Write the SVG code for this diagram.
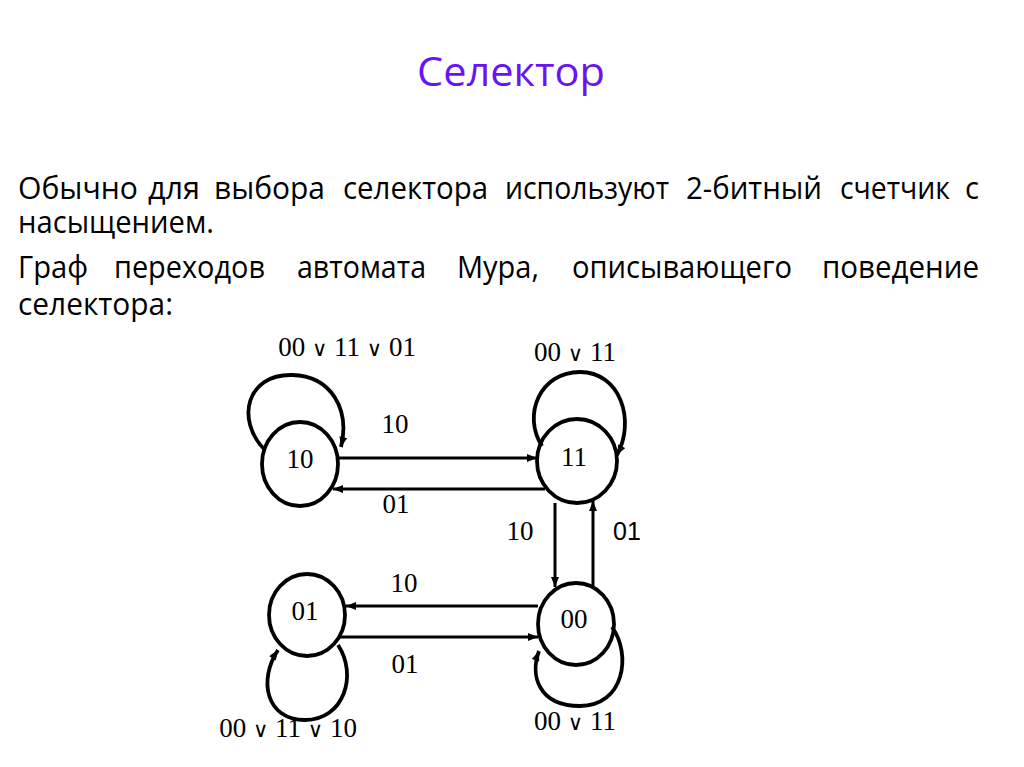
<svg xmlns="http://www.w3.org/2000/svg" width="1024" height="767" viewBox="0 0 1024 767">
<defs>
<style>
.title{font-family:"Open Sans","Noto Sans",sans-serif;font-size:41px;fill:#6a14f5}
.body{font-family:"Open Sans","Noto Sans",sans-serif;font-size:31px;fill:#000}
.lbl{font-family:"Liberation Serif","Times New Roman",serif;font-size:27px;fill:#000;text-anchor:middle}
.sans{font-family:"Liberation Sans",Arial,sans-serif;font-size:25px;fill:#000;text-anchor:middle}
.or{font-family:"DejaVu Sans",sans-serif;font-size:21px}
.node{fill:none;stroke:#000;stroke-width:3.8}
.edge{fill:none;stroke:#000;stroke-width:3}
</style>
<marker id="arr" viewBox="0 0 10 8" refX="10" refY="4" markerWidth="11" markerHeight="8" markerUnits="userSpaceOnUse" orient="auto">
<path d="M0,0 L10,4 L0,8 Z" fill="#000"/>
</marker>
</defs>
<rect width="1024" height="767" fill="#fff"/>
<text class="title" x="417" y="86" textLength="188" lengthAdjust="spacingAndGlyphs">Селектор</text>
<g id="paragraph">
<text class="body" x="18" y="199" textLength="120" lengthAdjust="spacingAndGlyphs">Обычно</text>
<text class="body" x="148" y="199" textLength="52" lengthAdjust="spacingAndGlyphs">для</text>
<text class="body" x="214" y="199" textLength="111" lengthAdjust="spacingAndGlyphs">выбора</text>
<text class="body" x="343" y="199" textLength="145" lengthAdjust="spacingAndGlyphs">селектора</text>
<text class="body" x="505" y="199" textLength="164" lengthAdjust="spacingAndGlyphs">используют</text>
<text class="body" x="686" y="199" textLength="136" lengthAdjust="spacingAndGlyphs">2-битный</text>
<text class="body" x="840" y="199" textLength="110" lengthAdjust="spacingAndGlyphs">счетчик</text>
<text class="body" x="965" y="199" textLength="14" lengthAdjust="spacingAndGlyphs">с</text>
<text class="body" x="18" y="233" textLength="196" lengthAdjust="spacingAndGlyphs">насыщением.</text>
<text class="body" x="18" y="278" textLength="70" lengthAdjust="spacingAndGlyphs">Граф</text>
<text class="body" x="114" y="278" textLength="151" lengthAdjust="spacingAndGlyphs">переходов</text>
<text class="body" x="297" y="278" textLength="129" lengthAdjust="spacingAndGlyphs">автомата</text>
<text class="body" x="457" y="278" textLength="82" lengthAdjust="spacingAndGlyphs">Мура,</text>
<text class="body" x="572" y="278" textLength="220" lengthAdjust="spacingAndGlyphs">описывающего</text>
<text class="body" x="822" y="278" textLength="157" lengthAdjust="spacingAndGlyphs">поведение</text>
<text class="body" x="18" y="315" textLength="155" lengthAdjust="spacingAndGlyphs">селектора:</text>
</g>
<g id="connectors">
<path class="edge" d="M338,458 L537,458" marker-end="url(#arr)"/>
<path class="edge" d="M545,489 L333,489" marker-end="url(#arr)"/>
<path class="edge" d="M555,503 L555,587" marker-end="url(#arr)"/>
<path class="edge" d="M593,587 L593,501" marker-end="url(#arr)"/>
<path class="edge" d="M538,606 L346,606" marker-end="url(#arr)"/>
<path class="edge" d="M340,637 L538,637" marker-end="url(#arr)"/>
<path class="node" d="M264,449 C236,420 246,374 292,375 C332,376 350,410 341,447" marker-end="url(#arr)"/>
<path class="node" d="M542,446 C522,415 540,372 580,372 C620,372 636,420 617,455" marker-end="url(#arr)"/>
<path class="node" d="M338,645 C358,675 344,720 305,720 C266,720 258,680 278,650" marker-end="url(#arr)"/>
<path class="node" d="M612,627 C632,655 624,706 580,706 C538,706 530,675 539,651" marker-end="url(#arr)"/>
<text class="lbl" x="395" y="433">10</text>
<text class="lbl" x="396" y="513">01</text>
<text class="lbl" x="520" y="540">10</text>
<text class="sans" x="627" y="540">01</text>
<text class="lbl" x="404" y="592">10</text>
<text class="lbl" x="405" y="673">01</text>
<text class="lbl" x="347" y="356">00 <tspan class="or">∨</tspan> 11 <tspan class="or">∨</tspan>  01</text>
<text class="lbl" x="575" y="361">00 <tspan class="or">∨</tspan> 11</text>
<text class="lbl" x="288" y="737">00 <tspan class="or">∨</tspan> 11 <tspan class="or">∨</tspan> 10</text>
<text class="lbl" x="575" y="730">00 <tspan class="or">∨</tspan> 11</text>
</g>
<g id="n10"><ellipse class="node" cx="300" cy="464" rx="38" ry="42"/><text class="lbl" x="300" y="468">10</text></g>
<g id="n11"><ellipse class="node" cx="577" cy="461" rx="40" ry="42"/><text class="lbl" x="574" y="466">11</text></g>
<g id="n01"><ellipse class="node" cx="307" cy="615" rx="38" ry="41"/><text class="lbl" x="305" y="620">01</text></g>
<g id="n00"><ellipse class="node" cx="576" cy="624" rx="38" ry="41"/><text class="lbl" x="574" y="628">00</text></g>
</svg>
